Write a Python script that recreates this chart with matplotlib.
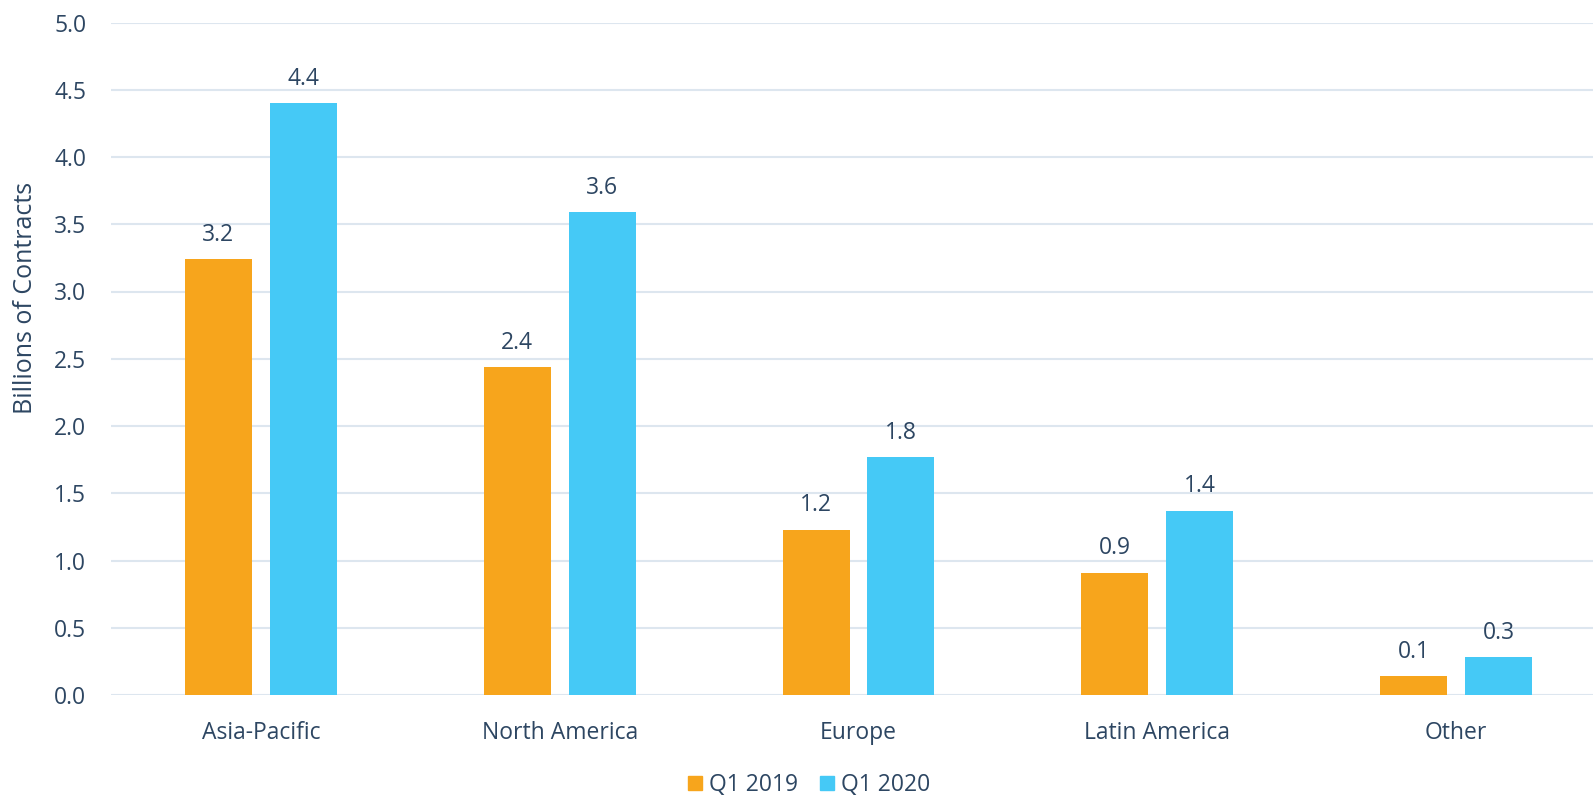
import matplotlib
matplotlib.use("Agg")
import matplotlib.pyplot as plt
from matplotlib.lines import Line2D
import numpy as np

categories = ["Asia-Pacific", "North America", "Europe", "Latin America", "Other"]
q1_2019 = [3.24, 2.44, 1.23, 0.91, 0.14]
q1_2020 = [4.40, 3.59, 1.77, 1.37, 0.28]
series_names = ["Q1 2019", "Q1 2020"]
y_ticks = [0.0, 0.5, 1.0, 1.5, 2.0, 2.5, 3.0, 3.5, 4.0, 4.5, 5.0]

ORANGE = "#F7A51C"
BLUE = "#45C9F6"
TEXT = "#2D4662"
GRID = "#DDE6EF"
FS = 16.5

plt.rcParams['font.family'] = ['Open Sans', 'DejaVu Sans']

fig = plt.figure(figsize=(15.93, 7.98), dpi=100)
ax = fig.add_axes([111.4 / 1593, 103 / 798, 1 - 111.4 / 1593, (695 - 22.5) / 798])

x = np.arange(len(categories))
w = 0.224
off = 0.142
b1 = ax.bar(x - off, q1_2019, w, color=ORANGE, zorder=3)
b2 = ax.bar(x + off, q1_2020, w, color=BLUE, zorder=3)

for bars, vals in ((b1, q1_2019), (b2, q1_2020)):
    for rect, v in zip(bars, vals):
        ax.annotate(f"{v:.1f}", (rect.get_x() + rect.get_width() / 2, v),
                    xytext=(0, 17.5), textcoords="offset points",
                    ha="center", va="center", fontsize=FS, color=TEXT)

ax.set_xlim(-0.5, (1593 - 111.4) / 298.85 - 0.5)
ax.set_ylim(0, 5.0)
ax.set_yticks(y_ticks)
ax.set_yticklabels([f"{t:.1f}" for t in y_ticks])
ax.set_xticks(x)
ax.set_xticklabels(categories)
ax.yaxis.grid(True, color=GRID, linewidth=1.5, zorder=0)
ax.set_axisbelow(True)
for s in ax.spines.values():
    s.set_visible(False)
ax.tick_params(axis="both", length=0, labelsize=FS, labelcolor=TEXT)
ax.tick_params(axis="y", pad=18)
ax.tick_params(axis="x", pad=19)

fig.text(26 / 1593, 1 - 298 / 798, "Billions of Contracts", rotation=90,
         ha="center", va="center", fontsize=18, color=TEXT)

handles = [Line2D([], [], linestyle="none", marker="s", markersize=10.5, color=ORANGE),
           Line2D([], [], linestyle="none", marker="s", markersize=10.5, color=BLUE)]
fig.legend(handles, series_names, loc="center", bbox_to_anchor=(808 / 1593, 1 - 785 / 798),
           ncol=2, frameon=False, fontsize=FS, labelcolor=TEXT,
           handletextpad=0.2, columnspacing=0.9, handlelength=0.8)

fig.savefig("out.png", dpi=100, facecolor="white")
